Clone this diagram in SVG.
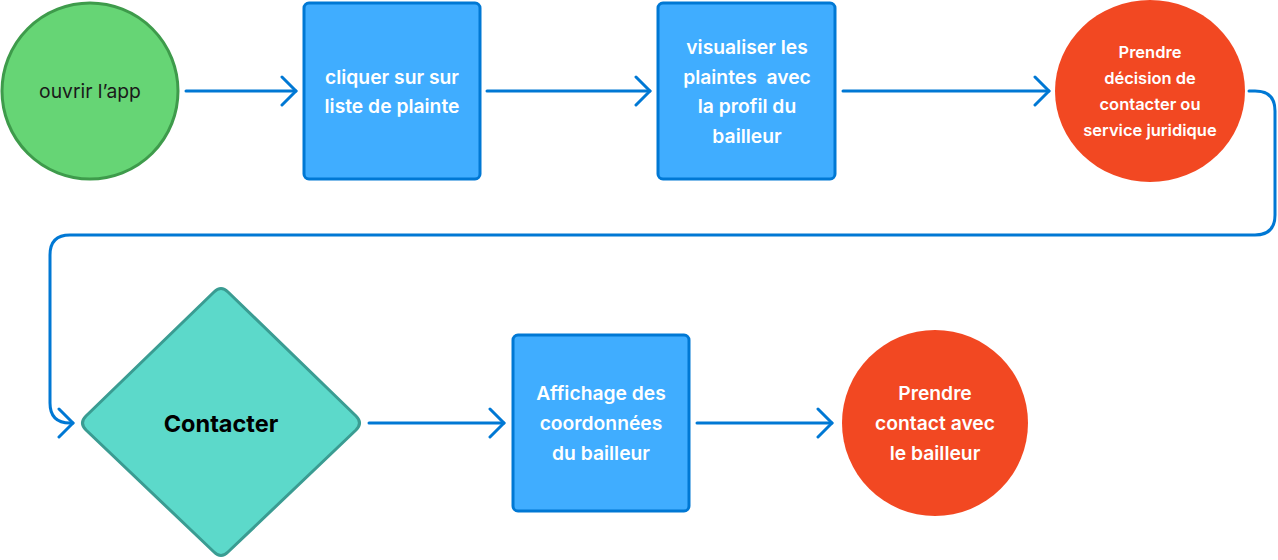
<svg xmlns="http://www.w3.org/2000/svg" width="1278" height="560" viewBox="0 0 1278 560">
<style>
.box{fill:#40adff;stroke:#0078d4;stroke-width:3}
.red{fill:#f24822}
.w{fill:#ffffff;font-family:Inter,"Liberation Sans",sans-serif;font-weight:600;text-anchor:middle;dominant-baseline:central;white-space:pre}
.c{fill:none;stroke:#0078d4;stroke-width:3;stroke-linecap:round;stroke-linejoin:round}
</style>
<defs>
<marker id="arr" markerWidth="20" markerHeight="32" refX="16" refY="16" orient="auto" markerUnits="userSpaceOnUse">
<path d="M2,2 L16,16 L2,30" fill="none" stroke="#0078d4" stroke-width="3" stroke-linecap="round" stroke-linejoin="round"/>
</marker>
</defs>
<rect width="1278" height="560" fill="#ffffff"/>
<g id="connectors">
<path class="c" d="M186,91 H296" marker-end="url(#arr)"/>
<path class="c" d="M487,91 H650" marker-end="url(#arr)"/>
<path class="c" d="M843,91 H1049" marker-end="url(#arr)"/>
<path class="c" d="M1249,91 H1255 Q1275,91 1275,111 V215 Q1275,235 1255,235 H70 Q50,235 50,255 V403 Q50,423 70,423 H73" marker-end="url(#arr)"/>
<path class="c" d="M369,423 H504" marker-end="url(#arr)"/>
<path class="c" d="M697,423 H832" marker-end="url(#arr)"/>
</g>
<g id="n1">
<circle cx="90" cy="91" r="88" fill="#66d575" stroke="#3e9b4b" stroke-width="3"/>
<text x="90" y="91" font-family="Inter,'Liberation Sans',sans-serif" font-size="19.3" fill="#1a1a1a" text-anchor="middle" dominant-baseline="central">ouvrir l’app</text>
</g>
<g id="n2">
<rect class="box" x="304" y="3" width="176" height="176" rx="5"/>
<text class="w" x="392" y="77" font-size="19.3">cliquer sur sur</text>
<text class="w" x="392" y="106" font-size="19.3">liste de plainte</text>
</g>
<g id="n3">
<rect class="box" x="658" y="3" width="177" height="176" rx="5"/>
<text class="w" x="747" y="47" font-size="19.3">visualiser les</text>
<text class="w" x="747" y="77" font-size="19.3">plaintes  avec</text>
<text class="w" x="747" y="106" font-size="19.3">la profil du</text>
<text class="w" x="747" y="136" font-size="19.3">bailleur</text>
</g>
<g id="n4">
<ellipse class="red" cx="1150" cy="91" rx="95" ry="91"/>
<text class="w" x="1150" y="52" font-size="16.5">Prendre</text>
<text class="w" x="1150" y="78" font-size="16.5">décision de</text>
<text class="w" x="1150" y="104" font-size="16.5">contacter ou</text>
<text class="w" x="1150" y="130" font-size="16.5">service juridique</text>
</g>
<g id="n5">
<path d="M214,292 Q221,285 228,292 L356,416 Q363,423 356,430 L228,552 Q221,559 214,552 L86,430 Q79,423 86,416 Z" fill="#5cd9ca" stroke="#3a9c92" stroke-width="3" stroke-linejoin="round"/>
<text x="221" y="423" font-family="Inter,'Liberation Sans',sans-serif" font-size="23.5" font-weight="700" fill="#000000" text-anchor="middle" dominant-baseline="central">Contacter</text>
</g>
<g id="n6">
<rect class="box" x="513" y="335" width="176" height="176" rx="5"/>
<text class="w" x="601" y="393" font-size="19.3">Affichage des</text>
<text class="w" x="601" y="423" font-size="19.3">coordonnées</text>
<text class="w" x="601" y="453" font-size="19.3">du bailleur</text>
</g>
<g id="n7">
<circle class="red" cx="935" cy="423" r="93"/>
<text class="w" x="935" y="393" font-size="19.3">Prendre</text>
<text class="w" x="935" y="423" font-size="19.3">contact avec</text>
<text class="w" x="935" y="453" font-size="19.3">le bailleur</text>
</g>
</svg>
